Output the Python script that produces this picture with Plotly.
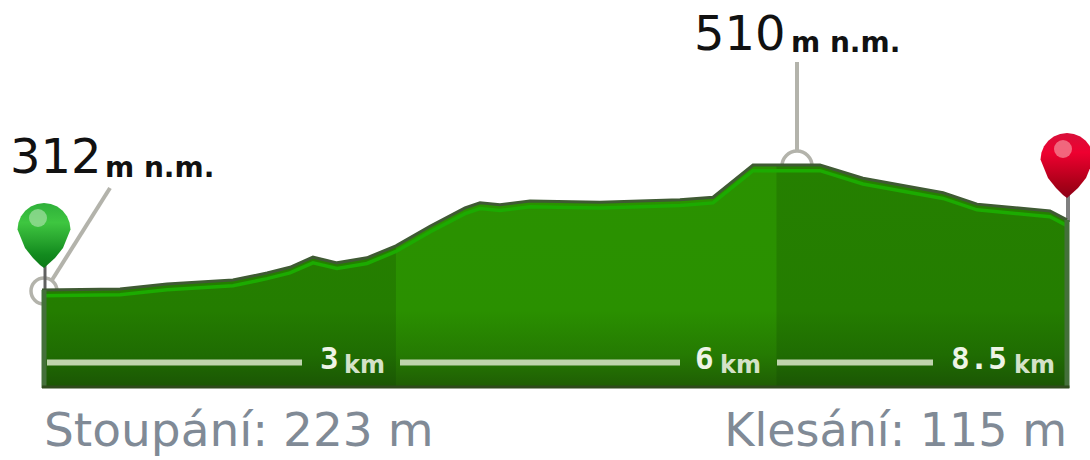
import math
import plotly.graph_objects as go

# ---- data ----
distance_km = [0, 0.646, 1.035, 1.581, 1.863, 2.053, 2.243, 2.442, 2.690, 2.93, 3.212, 3.502, 3.626,
               3.791, 4.040, 4.619, 5.281, 5.555, 5.886, 6.08, 6.440, 6.796, 7.459, 7.740, 8.344, 8.485]
elevation_m = [312, 313.6, 321.5, 327.8, 339, 348, 364, 355, 363, 382, 413, 442, 450,
               447, 453, 451, 455, 459, 510, 510, 510, 489, 466, 448, 437, 423]
band_breaks_km = [0, 2.93, 6.08, 8.485]
band_labels = ["3", "6", "8.5"]
start_elevation = "312"
peak_elevation = "510"
peak_km = 6.25
ascent_label = "Stoupání: 223 m"
descent_label = "Klesání: 115 m"

# ---- scale: whole canvas mapped to km / metres ----
W, H = 1090, 460
PX_KM = 120.8
X0, Y312 = 42, 290


def kx(px):
    return (px - X0) / PX_KM


def my(py):
    return 312 + (Y312 - py) * 1.584


BASE = my(388)
TOP = my(160)
fig = go.Figure()

# leader lines + rings (below the terrain)
GREY = "#b3b3ab"
fig.add_trace(go.Scatter(x=[kx(44)], y=[my(291)], mode="markers",
                         marker=dict(symbol="circle-open", size=26, color=GREY, line=dict(color=GREY, width=3.5))))
fig.add_trace(go.Scatter(x=[peak_km], y=[my(166)], mode="markers",
                         marker=dict(symbol="circle-open", size=30, color=GREY, line=dict(color=GREY, width=3.5))))
fig.add_trace(go.Scatter(x=[kx(110), kx(52)], y=[my(188), my(280)], mode="lines",
                         line=dict(color=GREY, width=4)))
fig.add_trace(go.Scatter(x=[peak_km, peak_km], y=[my(62), my(152)], mode="lines",
                         line=dict(color=GREY, width=4)))

# pin stems
fig.add_trace(go.Scatter(x=[kx(45), kx(45)], y=[my(262), my(292)], mode="lines",
                         line=dict(color="#606060", width=3)))
fig.add_trace(go.Scatter(x=[kx(1068), kx(1068)], y=[my(195), my(222)], mode="lines",
                         line=dict(color="#808080", width=4)))

# terrain: one full polygon, then the lighter middle band on top
side_grad = [[0, "#1b5504"], [0.145, "#1f6c02"], [0.34, "#247d00"], [1, "#258000"]]
mid_grad = [[0, "#1f5c04"], [0.145, "#257a02"], [0.34, "#2a9000"], [1, "#2a9200"]]
fig.add_trace(go.Scatter(
    x=[0] + distance_km + [distance_km[-1], 0], y=[BASE] + elevation_m + [BASE, BASE],
    mode="lines", fill="toself", line=dict(width=0),
    fillgradient=dict(type="vertical", colorscale=side_grad, start=BASE, stop=TOP)))
a, b = band_breaks_km[1], band_breaks_km[2]
xs = [d for d in distance_km if a <= d <= b]
ys = [e for d, e in zip(distance_km, elevation_m) if a <= d <= b]
fig.add_trace(go.Scatter(
    x=[a] + xs + [b, a], y=[BASE] + ys + [BASE, BASE], mode="lines", fill="toself",
    line=dict(width=0),
    fillgradient=dict(type="vertical", colorscale=mid_grad, start=BASE, stop=TOP)))

# highlight + outline
fig.add_trace(go.Scatter(x=distance_km, y=[e - 9 for e in elevation_m], mode="lines",
                         line=dict(color="#1cab00", width=3.5)))
fig.add_trace(go.Scatter(x=distance_km, y=elevation_m, mode="lines",
                         line=dict(color="#3f5a33", width=3)))
# edges
for px in (44, 1067):
    fig.add_trace(go.Scatter(x=[kx(px), kx(px)], y=[my(290 if px == 44 else 220), BASE], mode="lines",
                             line=dict(color="#44703a", width=5)))
fig.add_trace(go.Scatter(x=[0, distance_km[-1] + 0.02], y=[my(387), my(387)], mode="lines",
                         line=dict(color="#2f4a1c", width=3)))

# distance bars
bar_segs = [(47, 302), (400, 680), (777, 933)]
for x1, x2 in bar_segs:
    fig.add_trace(go.Scatter(x=[kx(x1), kx(x2)], y=[my(362.5), my(362.5)], mode="lines",
                             line=dict(color="#bfd4ad", width=6)))

# balloon glyph: round head (radius 26.5 px) that narrows to a tip, in pixel offsets from the tip
ARC = [(26.5 * math.cos(math.radians(t)), -38.5 + 26.5 * math.sin(math.radians(t))) for t in range(-180, 15, 15)]
BALLOON = [(x, y) for x, y in ARC] + [(19, -20), (11, -10), (4, -3), (0, 0), (-4, -3), (-11, -10), (-19, -20)] + [ARC[0]]


def balloon(cx, tip, colors):
    fig.add_trace(go.Scatter(
        x=[kx(cx + p[0]) for p in BALLOON], y=[my(tip + p[1]) for p in BALLOON],
        mode="lines", fill="toself", line=dict(width=0),
        fillgradient=dict(type="vertical", colorscale=colors, start=my(tip), stop=my(tip - 65))))


balloon(44, 268, [[0, "#0c7a18"], [0.2, "#128a1e"], [0.45, "#2aa830"], [0.7, "#3ec640"], [1, "#2fb03a"]])
balloon(1067, 198, [[0, "#8c0018"], [0.2, "#a80018"], [0.45, "#cc0024"], [0.7, "#ee0030"], [1, "#d8103a"]])
fig.add_trace(go.Scatter(x=[kx(38), kx(1063)], y=[my(218), my(149)], mode="markers",
                         marker=dict(symbol="circle", size=[18, 18], color=["#a4e0a4", "#f5909c"], line=dict(width=0))))


def text(px, py, s, size, color, family="DejaVu Sans", pos="middle right"):
    fig.add_trace(go.Scatter(x=[kx(px)], y=[my(py)], mode="text", text=[s], textposition=pos,
                             textfont=dict(size=size, color=color, family=family)))


# elevation labels
text(10, 161, start_elevation, 48, "#111111")
text(105, 170, "<b>m n.m.</b>", 28, "#111111")
text(694, 38, peak_elevation, 48, "#111111")
text(791, 45, "<b>m n.m.</b>", 28, "#111111")

# km labels
km_pos = [(320, 344), (695, 720), (951, 1014)]
for (xn, xk), lab in zip(km_pos, band_labels):
    text(xn, 361, f"<b>{lab}</b>", 31, "#eef4e6", "DejaVu Sans Mono")
    text(xk, 367, "<b>km</b>", 24, "#d4e2c8", "DejaVu Sans")

# footer
text(44, 434, ascent_label, 47, "#808a96", "DejaVu Sans")
text(1067, 434, descent_label, 46, "#808a96", "DejaVu Sans", "middle left")

fig.update_layout(
    width=W, height=H, margin=dict(l=0, r=0, t=0, b=0), showlegend=False,
    paper_bgcolor="white", plot_bgcolor="white", hovermode=False,
    xaxis=dict(range=[kx(0), kx(W)], visible=False, fixedrange=True),
    yaxis=dict(range=[my(H), my(0)], visible=False, fixedrange=True),
)
fig.write_html("out.html", config={"displayModeBar": False},
               post_script="document.body.style.margin='0';")
